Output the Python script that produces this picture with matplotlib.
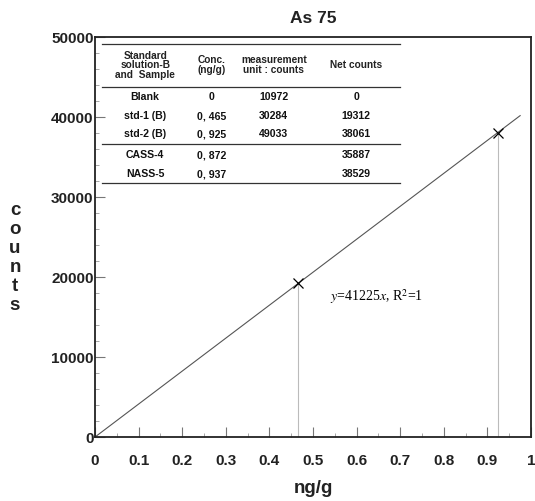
import matplotlib.pyplot as plt
from matplotlib.ticker import MultipleLocator

# data
conc = [0.465, 0.925]
net_counts = [19312, 38061]
slope = 41225
line_x = [0, 0.975]

x_ticks = [0, 0.1, 0.2, 0.3, 0.4, 0.5, 0.6, 0.7, 0.8, 0.9, 1]
x_tick_labels = ['0', '0.1', '0.2', '0.3', '0.4', '0.5', '0.6', '0.7', '0.8', '0.9', '1']
y_ticks = [0, 10000, 20000, 30000, 40000, 50000]

table_header = ['Standard\nsolution-B\nand  Sample', 'Conc.\n(ng/g)', 'measurement\nunit : counts', 'Net counts']
table_rows = [
    ['Blank', '0', '10972', '0'],
    ['std-1 (B)', '0, 465', '30284', '19312'],
    ['std-2 (B)', '0, 925', '49033', '38061'],
    ['CASS-4', '0, 872', '', '35887'],
    ['NASS-5', '0, 937', '', '38529'],
]

plt.rcParams['mathtext.fontset'] = 'stix'

fig = plt.figure(figsize=(5.35, 5.01), dpi=100)
ax = fig.add_axes([0.1776, 0.1277, 0.815, 0.798])

# fitted line and drop lines
ax.plot(line_x, [slope * v for v in line_x], color='#555555', lw=0.8)
ax.vlines(conc, 0, net_counts, color='#bbbbbb', lw=0.8)
ax.plot(conc, net_counts, 'x', color='black', ms=6.5, mew=0.9)

ax.set_xlim(0, 1)
ax.set_ylim(0, 50000)
ax.set_xticks(x_ticks, x_tick_labels)
ax.set_yticks(y_ticks, [str(v) for v in y_ticks])
ax.xaxis.set_minor_locator(MultipleLocator(0.05))
ax.yaxis.set_minor_locator(MultipleLocator(2000))
ax.tick_params(which='major', direction='in', length=7, width=0.8, color='#777777')
ax.tick_params(which='minor', direction='in', length=3, width=0.6, color='#999999')
ax.tick_params(axis='x', pad=12)
ax.tick_params(axis='y', pad=1)
for lab in ax.get_xticklabels() + ax.get_yticklabels():
    lab.set_fontfamily('Liberation Sans')
    lab.set_fontweight('bold')
    lab.set_fontsize(11)
    lab.set_color('#222222')
for sp in ax.spines.values():
    sp.set_linewidth(1.3)
    sp.set_color('#222222')

ax.set_title('As 75', fontsize=12.5, fontweight='bold', family='Liberation Sans', pad=10, color='#222222')
ax.set_xlabel('ng/g', fontsize=13.5, fontweight='bold', family='Liberation Sans', labelpad=9, color='#222222')
fig.text(0.028, 0.485, 'c\no\nu\nn\nt\ns', fontsize=13.5, fontweight='bold', family='Liberation Sans',
         ha='center', va='center', linespacing=1.15, color='#222222')

ax.text(0.539, 17600, r'$y$=41225$x$, R$^2$=1', fontsize=10, family='Liberation Serif', va='center')

# table drawn in axes fraction
col_x = [0.115, 0.268, 0.41, 0.599]
header_y = 0.93
row_y = [0.85, 0.8025, 0.7575, 0.705, 0.6575]
for xc, h in zip(col_x, table_header):
    ax.text(xc, header_y, h, transform=ax.transAxes, ha='center', va='center', fontsize=7.3,
            family='Liberation Sans', fontweight='bold', linespacing=0.95, color='#222222')
for yr, row in zip(row_y, table_rows):
    for xc, cell in zip(col_x, row):
        ax.text(xc, yr, cell, transform=ax.transAxes, ha='center', va='center', fontsize=7.6,
                family='Liberation Sans', fontweight='bold', color='#111111')
for yl in [0.9825, 0.875, 0.7325, 0.635]:
    ax.plot([0.016, 0.70], [yl, yl], transform=ax.transAxes, color='#333333', lw=0.9)

fig.savefig('out.png', dpi=100)
